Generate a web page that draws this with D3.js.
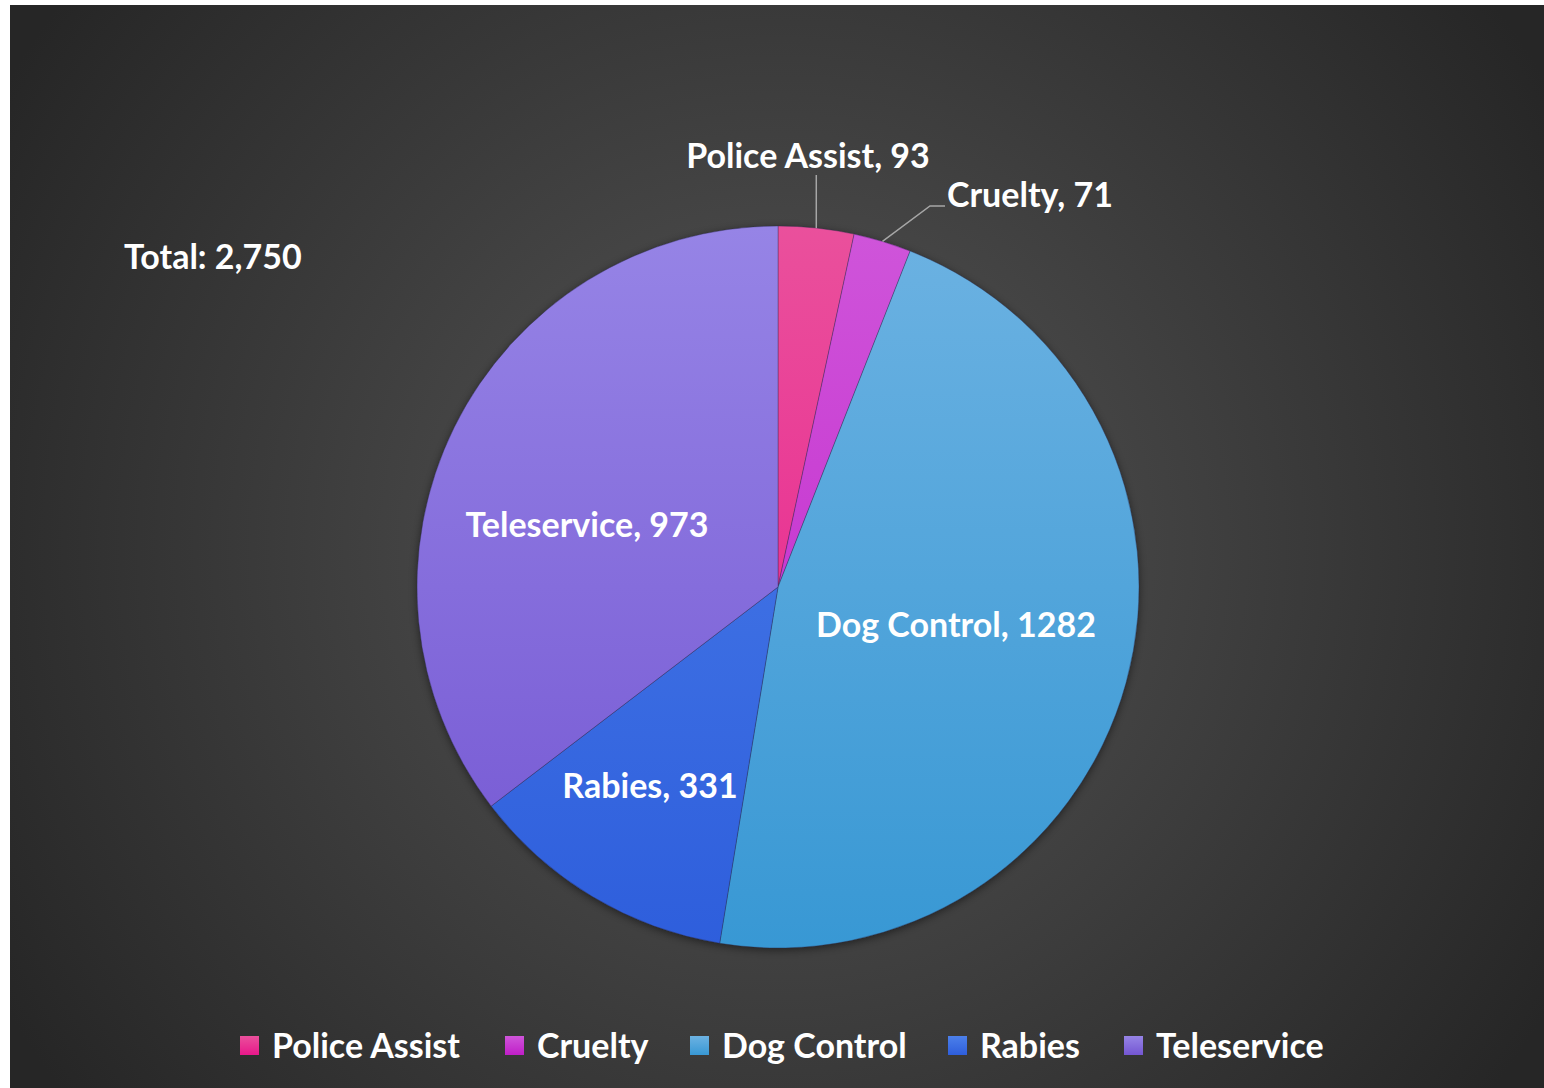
<!DOCTYPE html>
<html><head><meta charset="utf-8">
<script src="https://cdn.jsdelivr.net/npm/d3@7"></script>
<style>
html,body{margin:0;padding:0;background:#fff;}
svg{display:block;}
text{font-family:Lato,"Open Sans",sans-serif;font-weight:700;fill:#fff;}
</style></head><body>
<svg id="c" width="1544" height="1088"></svg>
<script>
const categories = ["Police Assist","Cruelty","Dog Control","Rabies","Teleservice"];
const values = [93,71,1282,331,973];
const totalLabel = "Total: 2,750";
const colorsTop = ["#ea509c","#cf55da","#6cb2e2","#4c80ea","#9684e6"];
const colorsBottom = ["#e8188a","#c01ec8","#3898d4","#2e5edc","#7456d2"];

const W=1544,H=1088;
const svg=d3.select("#c");
const defs=svg.append("defs");
const bg=defs.append("radialGradient").attr("id","bg").attr("gradientUnits","userSpaceOnUse")
  .attr("cx",777).attr("cy",546).attr("r",900);
bg.append("stop").attr("offset","0").attr("stop-color","#565656");
bg.append("stop").attr("offset","1").attr("stop-color","#262626");
svg.append("rect").attr("x",10).attr("y",5).attr("width",W-10).attr("height",H-5).attr("fill","url(#bg)");

const cx=778,cy=587,r=361;
categories.forEach((c,i)=>{
  const g=defs.append("linearGradient").attr("id","g"+i).attr("gradientUnits","userSpaceOnUse")
    .attr("x1",0).attr("y1",-r).attr("x2",0).attr("y2",r);
  g.append("stop").attr("offset","0").attr("stop-color",colorsTop[i]);
  g.append("stop").attr("offset","1").attr("stop-color",colorsBottom[i]);
});
const f=defs.append("filter").attr("id","sh").attr("x","-10%").attr("y","-10%").attr("width","120%").attr("height","120%");
f.append("feDropShadow").attr("dx",0).attr("dy",2).attr("stdDeviation",4).attr("flood-color","#000").attr("flood-opacity",0.5);

const pie=d3.pie().sort(null).value(d=>d.v);
const data=pie(categories.map((c,i)=>({c,v:values[i],i})));
const arc=d3.arc().innerRadius(0).outerRadius(r);
const gp=svg.append("g").attr("transform",`translate(${cx},${cy})`);
gp.append("circle").attr("r",r).attr("fill","#333").attr("filter","url(#sh)");
gp.selectAll("path").data(data).join("path")
  .attr("d",arc)
  .attr("fill",d=>`url(#g${d.data.i})`)
  .attr("stroke","rgba(40,40,80,0.35)").attr("stroke-width",1);

const fs=34;
const inner={2:[956,637],3:[650,798],4:[587,537]};
const outerArc=d3.arc().innerRadius(r).outerRadius(r);
data.forEach(d=>{
  const t=d.data.c+", "+d.data.v;
  if(inner[d.data.i]){
    svg.append("text").attr("x",inner[d.data.i][0]).attr("y",inner[d.data.i][1])
      .attr("text-anchor","middle").attr("font-size",fs).text(t);
  }
});
const pa=data[0], cr=data[1];
const pPA=outerArc.centroid(pa);
svg.append("line").attr("x1",cx+pPA[0]).attr("y1",cy+pPA[1]).attr("x2",cx+pPA[0]).attr("y2",175)
  .attr("stroke","#a6a6a6").attr("stroke-width",1.5);
svg.append("text").attr("x",808).attr("y",168).attr("text-anchor","middle").attr("font-size",fs).text(pa.data.c+", "+pa.data.v);
const pCR=outerArc.centroid(cr);
svg.append("polyline").attr("points",`${cx+pCR[0]},${cy+pCR[1]} 930,206 945,206`)
  .attr("fill","none").attr("stroke","#a6a6a6").attr("stroke-width",1.5);
svg.append("text").attr("x",947).attr("y",207).attr("text-anchor","start").attr("font-size",fs).text(cr.data.c+", "+cr.data.v);

svg.append("text").attr("x",124).attr("y",269).attr("font-size",fs).text(totalLabel);

const legX=[240,505,690,948,1124];
const lg=svg.append("g");
categories.forEach((c,i)=>{
  const lgGrad=defs.append("linearGradient").attr("id","lg"+i).attr("x1",0).attr("y1",0).attr("x2",0).attr("y2",1);
  lgGrad.append("stop").attr("offset","0").attr("stop-color",colorsTop[i]);
  lgGrad.append("stop").attr("offset","1").attr("stop-color",colorsBottom[i]);
  lg.append("rect").attr("x",legX[i]).attr("y",1036).attr("width",19).attr("height",19).attr("fill",`url(#lg${i})`);
  lg.append("text").attr("x",legX[i]+32).attr("y",1058).attr("font-size",fs).text(c);
});
</script></body></html>
